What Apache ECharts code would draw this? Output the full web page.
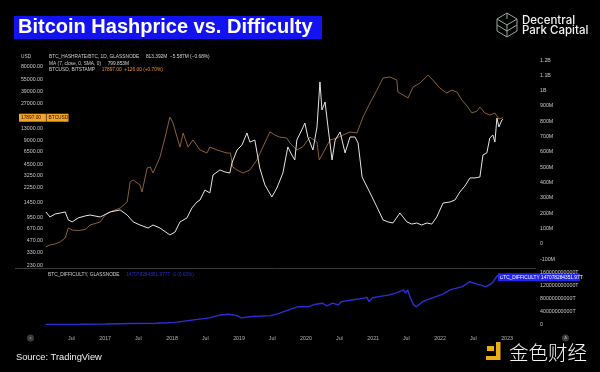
<!DOCTYPE html>
<html><head><meta charset="utf-8">
<script src="https://cdn.jsdelivr.net/npm/echarts@6/dist/echarts.min.js"></script>
<style>html,body{margin:0;padding:0;background:#000;}#c{width:600px;height:372px;}</style>
</head><body><div id="c"></div>
<script>
// ---- DATA ----
const hashDates = ['2016-02-13','2016-03-06','2016-04-03','2016-05-01','2016-05-28','2016-06-14','2016-07-05','2016-08-07','2016-09-14','2016-10-11','2016-12-05','2017-01-28','2017-03-24','2017-05-01','2017-06-03','2017-07-10','2017-08-23','2017-09-19','2017-10-27','2017-12-20','2018-01-17','2018-02-13','2018-03-23','2018-04-19','2018-05-16','2018-06-02','2018-06-29','2018-07-26','2018-08-12','2018-09-19','2018-10-16','2018-11-12','2018-11-23','2018-12-21','2019-01-17','2019-02-13','2019-03-01','2019-03-28','2019-04-24','2019-05-22','2019-06-07','2019-06-29','2019-07-26','2019-08-28','2019-09-24','2019-10-16','2019-11-01','2019-11-12','2019-12-09','2019-12-26','2020-01-11','2020-02-08','2020-03-01','2020-03-17','2020-03-28','2020-04-14','2020-04-30','2020-05-22','2020-06-08','2020-07-05','2020-08-01','2020-08-28','2020-09-24','2020-10-11','2020-11-02','2020-11-29','2020-12-26','2021-01-22','2021-02-24','2021-03-23','2021-04-19','2021-05-27','2021-07-04','2021-07-31','2021-08-27','2021-09-23','2021-10-21','2021-11-17','2021-12-14','2022-01-17','2022-02-24','2022-03-23','2022-04-19','2022-05-16','2022-06-13','2022-07-10','2022-08-06','2022-08-23','2022-09-13','2022-09-29','2022-10-16','2022-10-27','2022-11-07','2022-11-18','2022-12-04','2022-12-10'];
const hashprice = [209,176,196,202,209,157,144,170,183,189,176,209,222,189,144,124,104,124,104,59,78,144,170,235,274,287,352,333,450,483,470,463,528,613,646,724,665,678,496,385,352,307,365,463,633,580,548,678,744,789,698,613,763,1057,874,926,763,548,678,731,594,698,698,659,437,372,307,241,157,144,137,202,144,130,137,124,137,130,176,267,274,287,339,378,431,431,437,581,594,691,711,665,822,763,809,813];

const btcDates = ['2016-02-13','2016-03-06','2016-04-03','2016-05-01','2016-05-28','2016-06-14','2016-07-05','2016-08-07','2016-09-14','2016-10-11','2016-12-05','2017-01-01','2017-01-28','2017-02-24','2017-03-24','2017-05-01','2017-05-17','2017-06-03','2017-07-10','2017-07-21','2017-08-18','2017-09-04','2017-09-19','2017-10-27','2017-11-24','2017-12-20','2018-01-06','2018-01-28','2018-02-13','2018-03-02','2018-03-29','2018-04-25','2018-06-02','2018-07-10','2018-07-26','2018-09-03','2018-10-27','2018-11-15','2018-11-28','2018-12-21','2019-01-22','2019-03-01','2019-04-08','2019-05-11','2019-06-18','2019-07-15','2019-08-11','2019-09-18','2019-10-05','2019-11-12','2019-12-15','2020-01-22','2020-03-01','2020-03-13','2020-04-03','2020-05-11','2020-06-18','2020-07-21','2020-08-28','2020-10-05','2020-11-07','2020-12-15','2021-01-22','2021-02-24','2021-04-02','2021-05-10','2021-05-16','2021-06-13','2021-07-10','2021-08-07','2021-09-14','2021-10-28','2021-11-22','2021-12-30','2022-02-06','2022-03-06','2022-04-03','2022-04-30','2022-05-28','2022-06-24','2022-07-22','2022-08-06','2022-09-02','2022-09-29','2022-10-27','2022-11-18','2022-12-10'];
const btcusd = [394,418,431,457,514,691,650,640,660,754,824,1014,1107,1175,1245,1486,2683,2847,2455,1997,4055,4180,3500,5610,10100,18300,15300,10100,7530,11400,7530,9280,6900,6310,7530,6900,6310,6310,4180,3820,3500,3820,5140,7530,11750,10740,10100,9840,8490,6900,7600,10100,8740,5140,6310,9280,9840,10740,11750,11400,18300,27600,40500,57800,59600,54500,38200,35000,32000,44400,49900,63100,54500,43100,37100,40500,38200,30200,25300,20600,21800,24500,20600,19400,20600,17200,17897];

const diffDates = ['2016-02-13','2016-08-18','2017-01-01','2017-05-17','2017-09-30','2018-01-17','2018-04-19','2018-07-23','2018-09-22','2018-11-06','2018-12-21','2019-01-14','2019-03-09','2019-06-22','2019-08-07','2019-10-10','2019-11-17','2020-01-09','2020-02-22','2020-04-01','2020-04-23','2020-05-25','2020-06-26','2020-07-13','2020-09-07','2020-11-05','2020-11-28','2020-12-10','2020-12-28','2021-02-08','2021-03-25','2021-05-03','2021-06-05','2021-06-16','2021-06-27','2021-07-08','2021-07-24','2021-08-10','2021-08-25','2021-09-28','2021-11-12','2022-01-13','2022-02-24','2022-05-03','2022-06-11','2022-07-26','2022-09-08','2022-10-11','2022-11-07','2022-11-25','2022-12-10'];
const difficulty = [0.2e10,0.25e10,0.33e10,0.45e10,0.55e10,0.8e10,1.5e10,2.2e10,3.1e10,3.3e10,2.9e10,2.2e10,2.6e10,2.9e10,3.6e10,4.9e10,5.6e10,5.6e10,6.4e10,6.7e10,5.9e10,6.7e10,6.2e10,7.2e10,7.7e10,8.2e10,8.5e10,7.2e10,8.4e10,8.8e10,9.2e10,9.8e10,10.5e10,10.8e10,9.8e10,10.8e10,8.2e10,6.2e10,5.6e10,7.2e10,8.2e10,9.4e10,10.8e10,11.8e10,13.3e10,12.5e10,11.8e10,12.8e10,15.0e10,15.5e10,14.7e10];

const leftTicks = [230,330,470,670,950,1450,2250,3250,4500,6500,9000,13000,27000,39000,55000,80000];
const rightTicks = [-100,0,100,200,300,400,500,600,700,800,900,1000,1100,1200]; // millions
const diffTicks = [0,4e10,8e10,12e10,16e10];
const timeTicks = ['2016-07-01','2017-01-01','2017-07-01','2018-01-01','2018-07-01','2019-01-01','2019-07-01','2020-01-01','2020-07-01','2021-01-01','2021-07-01','2022-01-01','2022-07-01','2023-01-01'];

// ---- CHART ----
const FONT = '"Liberation Sans", Arial, sans-serif';
const chart = echarts.init(document.getElementById('c'));
const tMin = +new Date(2016,1,8), tMax = +new Date(2023,5,8);
const ts = d => { const p = d.split('-'); return +new Date(+p[0], +p[1]-1, +p[2]); };
const fmtM = v => v === 0 ? '0' : (Math.abs(v) >= 1000 ? (v/1000) + 'B' : v + 'M');
const hidden = {axisLine: {show: false}, axisTick: {show: false}, splitLine: {show: false}};

chart.setOption({
  backgroundColor: '#000',
  animation: false,
  grid: [
    {left: 45, right: 64, top: 50, height: 218},
    {left: 45, right: 64, top: 269, height: 63}
  ],
  xAxis: [
    Object.assign({type: 'value', gridIndex: 0, min: tMin, max: tMax, axisLabel: {show: false}}, hidden),
    Object.assign({type: 'value', gridIndex: 1, min: tMin, max: tMax,
     axisLabel: {customValues: timeTicks.map(ts), formatter: v => { const d = new Date(v); return d.getMonth() === 0 ? String(d.getFullYear()) : 'Jul'; },
       color: '#b4b4b4', fontSize: 5.3, fontFamily: FONT, margin: 4}}, hidden)
  ],
  yAxis: [
    Object.assign({type: 'value', gridIndex: 0, position: 'left', min: 2.326, max: 5.121,
     axisLabel: {customValues: leftTicks.map(Math.log10), formatter: v => Math.round(Math.pow(10, v)).toFixed(2), color: '#c8c8c8', fontSize: 5.3, fontFamily: FONT, margin: 2}}, hidden),
    Object.assign({type: 'value', gridIndex: 0, position: 'right', min: -156.6, max: 1265.5,
     axisLabel: {customValues: rightTicks, formatter: fmtM, color: '#c8c8c8', fontSize: 5.3, fontFamily: FONT, margin: 4}}, hidden),
    Object.assign({type: 'value', gridIndex: 1, position: 'right', min: -2.15e10, max: 17.23e10,
     axisLabel: {customValues: diffTicks, formatter: v => v === 0 ? '0' : String(v) + 'T', color: '#c8c8c8', fontSize: 5.3, fontFamily: FONT, margin: 4}}, hidden)
  ],
  series: [
    {name: 'BTCUSD', type: 'line', xAxisIndex: 0, yAxisIndex: 0, showSymbol: false, silent: true,
     lineStyle: {color: '#8a6035', width: 1}, data: btcDates.map((d, i) => [ts(d), Math.log10(btcusd[i])])},
    {name: 'Hashprice', type: 'line', xAxisIndex: 0, yAxisIndex: 1, showSymbol: false, silent: true,
     lineStyle: {color: '#e6e6e6', width: 1}, data: hashDates.map((d, i) => [ts(d), hashprice[i]])},
    {name: 'Difficulty', type: 'line', xAxisIndex: 1, yAxisIndex: 2, showSymbol: false, silent: true,
     lineStyle: {color: '#2d2dd6', width: 1.4}, data: diffDates.map((d, i) => [ts(d), difficulty[i]])}
  ]
});

const btcY = chart.convertToPixel({yAxisIndex: 0}, Math.log10(btcusd[btcusd.length - 1]));
const diffY = chart.convertToPixel({yAxisIndex: 2}, difficulty[difficulty.length - 1]);
const small = 4.8;
const G = [
  {type: 'rect', shape: {x: 14, y: 16, width: 308, height: 23}, style: {fill: '#1313f2'}},
  {type: 'text', x: 18, y: 27.5, style: {text: 'Bitcoin Hashprice vs. Difficulty', fill: '#fff', font: 'bold 20px ' + FONT, verticalAlign: 'middle'}},
  {type: 'polyline', shape: {points: [[507,13],[517,19],[517,31],[507,37],[497,31],[497,19],[507,13]]}, style: {stroke: '#95aa9c', lineWidth: 1, fill: null}},
  {type: 'polyline', shape: {points: [[497,19],[507,25],[517,19]]}, style: {stroke: '#95aa9c', lineWidth: 1, fill: null}},
  {type: 'polyline', shape: {points: [[497,25],[507,31],[517,25]]}, style: {stroke: '#95aa9c', lineWidth: 1, fill: null}},
  {type: 'line', shape: {x1: 507, y1: 25, x2: 507, y2: 37}, style: {stroke: '#95aa9c', lineWidth: 1}},
  {type: 'line', shape: {x1: 507, y1: 13, x2: 507, y2: 19}, style: {stroke: '#95aa9c', lineWidth: 1}},
  {type: 'text', x: 522, y: 20.5, style: {text: 'Decentral', fill: '#f2f2f2', font: '500 11.5px Inter, sans-serif', verticalAlign: 'middle'}},
  {type: 'text', x: 522, y: 31, style: {text: 'Park Capital', fill: '#f2f2f2', font: '500 11.5px Inter, sans-serif', verticalAlign: 'middle'}},
  {type: 'text', x: 21, y: 56.5, style: {text: 'USD', fill: '#c8c8c8', font: small + 'px ' + FONT, verticalAlign: 'middle'}},
  {type: 'text', x: 49, y: 57, style: {text: '{a|BTC_HASHRATE/BTC, 1D, GLASSNODE}  {b|813.392M  −5.587M (−0.68%)}', verticalAlign: 'middle',
    rich: {a: {fill: '#d0d0d0', font: small + 'px ' + FONT}, b: {fill: '#d8d8d8', font: small + 'px ' + FONT}}}},
  {type: 'text', x: 49, y: 63.5, style: {text: '{a|MA (7, close, 0, SMA, 0)}  {b|799.853M}', verticalAlign: 'middle',
    rich: {a: {fill: '#d0d0d0', font: small + 'px ' + FONT}, b: {fill: '#d8d8d8', font: small + 'px ' + FONT}}}},
  {type: 'text', x: 49, y: 70, style: {text: '{a|BTCUSD, BITSTAMP}  {b|17897.00  +126.00 (+0.70%)}', verticalAlign: 'middle',
    rich: {a: {fill: '#d0d0d0', font: small + 'px ' + FONT}, b: {fill: '#e8962c', font: small + 'px ' + FONT}}}},
  {type: 'text', x: 48, y: 275, style: {text: '{a|BTC_DIFFICULTY, GLASSNODE}  {b|147078284351.977T  0 (0.00%)}', verticalAlign: 'middle',
    rich: {a: {fill: '#d0d0d0', font: small + 'px ' + FONT}, b: {fill: '#2a2ac8', font: small + 'px ' + FONT}}}},
  {type: 'line', shape: {x1: 15, y1: 268.5, x2: 536, y2: 268.5}, style: {stroke: '#3a3a3a', lineWidth: 1}},
  {type: 'rect', shape: {x: 19, y: btcY - 4, width: 27, height: 8}, style: {fill: '#f4a428'}},
  {type: 'rect', shape: {x: 46.5, y: btcY - 4, width: 22, height: 8}, style: {fill: '#f4a428'}},
  {type: 'line', shape: {x1: 46.2, y1: btcY - 4, x2: 46.2, y2: btcY + 4}, style: {stroke: '#8a5a10', lineWidth: 0.6}},
  {type: 'text', x: 21, y: btcY, style: {text: '17897.00', fill: '#201000', font: small + 'px ' + FONT, verticalAlign: 'middle'}},
  {type: 'text', x: 48.5, y: btcY, style: {text: 'BTCUSD', fill: '#201000', font: small + 'px ' + FONT, verticalAlign: 'middle'}},
  {type: 'rect', shape: {x: 498, y: diffY - 4, width: 82, height: 8}, style: {fill: '#2424f0'}},
  {type: 'text', x: 500, y: diffY, style: {text: 'BTC_DIFFICULTY', fill: '#fff', font: small + 'px ' + FONT, verticalAlign: 'middle'}},
  {type: 'text', x: 541, y: diffY, style: {text: '147078284351.97T', fill: '#fff', font: small + 'px ' + FONT, verticalAlign: 'middle'}},
  {type: 'circle', shape: {cx: 30.5, cy: 338, r: 3.5}, style: {fill: '#3c3c3c'}},
  {type: 'circle', shape: {cx: 565.5, cy: 338, r: 3.5}, style: {fill: '#3c3c3c'}},
  {type: 'text', x: 30.5, y: 338, style: {text: 'z', fill: '#aaa', font: '4px ' + FONT, align: 'center', verticalAlign: 'middle'}},
  {type: 'text', x: 565.5, y: 338, style: {text: 'A', fill: '#aaa', font: '4px ' + FONT, align: 'center', verticalAlign: 'middle'}},
  {type: 'text', x: 16, y: 357, style: {text: 'Source: TradingView', fill: '#f2f2f2', font: '9.3px ' + FONT, verticalAlign: 'middle'}},
  {type: 'rect', shape: {x: 487, y: 346, width: 7, height: 5}, style: {fill: '#eeab1a'}},
  {type: 'rect', shape: {x: 496, y: 342, width: 4.5, height: 18}, style: {fill: '#eeab1a'}},
  {type: 'rect', shape: {x: 486, y: 356, width: 14, height: 4}, style: {fill: '#eeab1a'}},
  {type: 'text', x: 509, y: 352.5, style: {text: '金色财经', fill: '#f4f4f4', font: '300 19.5px "Noto Sans CJK SC", sans-serif', verticalAlign: 'middle'}}
];
chart.setOption({graphic: G});
</script></body></html>
